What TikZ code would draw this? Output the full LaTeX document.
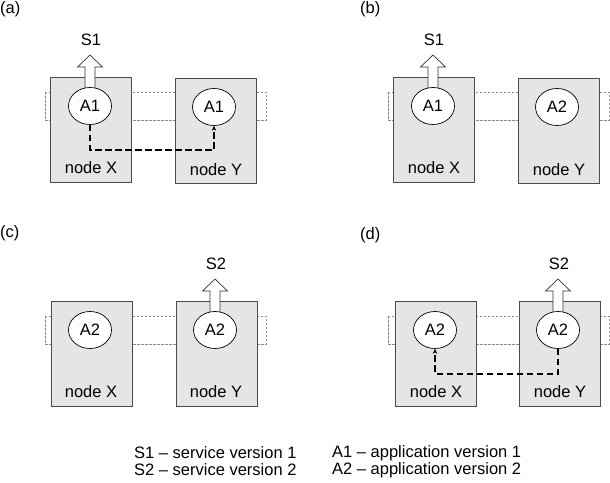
\documentclass[tikz,border=0pt]{standalone}
\usepackage{fontspec}
\setmainfont{Liberation Sans}
\usetikzlibrary{arrows.meta,calc,shapes.geometric}

\begin{document}
\begin{tikzpicture}[x=1pt,y=-1pt,>={Stealth[length=5pt,width=4.5pt]},font=\fontsize{16.5}{19}\selectfont,
  hostbox/.style={draw=black!70,fill=black!10,line width=1pt,minimum width=81pt,minimum height=105pt,inner sep=0pt},
  appell/.style={draw,fill=white,ellipse,minimum width=43pt,minimum height=37pt,inner sep=0pt,line width=0.7pt},
  linkbox/.style={draw=black!45,dash pattern=on 2.5pt off 1.5pt,line width=0.8pt},
  svcarrow/.style={draw=black!80,fill=white,line width=0.7pt},
  migr/.style={draw,dash pattern=on 6.5pt off 3.5pt,line width=1.3pt}]
\useasboundingbox (0,0) rectangle (610,482);

% (a)
\node[anchor=west,inner sep=0pt] (la) at (0,9) {(a)};
\draw[linkbox] (45,92) rectangle (266,120);
\node[hostbox] (aX) at (90.5,129.5) {};
\node[hostbox] (aY) at (216,130.5) {};
\node (aXl) at (91,168) {node X};
\node (aYl) at (216,170) {node Y};
\coordinate (aT) at (90,106);
\draw[svcarrow] ($(aT)+(-5,0)$) -- ++(0,-39) -- ++(-7.5,0) -- ++(12.5,-12) -- ++(12.5,12) -- ++(-7.5,0) -- ++(0,39);
\node (aS) at (91,40) {S1};
\node[appell] (aAx) at (aT) {A1};
\node[appell] (aAy) at (214,107) {A1};
\draw[migr,->] (aAx.south) -- ++(0,25) -| (aAy.south);

% (b)
\begin{scope}[shift={(343,0)}]
\node[anchor=west,inner sep=0pt] (lb) at (17,9) {(b)};
\draw[linkbox] (45,92) rectangle (266,120);
\node[hostbox] (bX) at (90.5,129.5) {};
\node[hostbox] (bY) at (216,130.5) {};
\node (bXl) at (91,168) {node X};
\node (bYl) at (216,170) {node Y};
\coordinate (bT) at (90,106);
\draw[svcarrow] ($(bT)+(-5,0)$) -- ++(0,-39) -- ++(-7.5,0) -- ++(12.5,-12) -- ++(12.5,12) -- ++(-7.5,0) -- ++(0,39);
\node (bS) at (91,40) {S1};
\node[appell] (bAx) at (bT) {A1};
\node[appell] (bAy) at (214,107) {A2};
\end{scope}

% (c)
\begin{scope}[shift={(0,224)}]
\node[anchor=west,inner sep=0pt] (lc) at (0,9) {(c)};
\draw[linkbox] (45,92) rectangle (266,120);
\node[hostbox] (cX) at (91.5,129.5) {};
\node[hostbox] (cY) at (216.5,129.5) {};
\node (cXl) at (91,168) {node X};
\node (cYl) at (216,168) {node Y};
\coordinate (cT) at (215,106);
\draw[svcarrow] ($(cT)+(-5,0)$) -- ++(0,-39) -- ++(-7.5,0) -- ++(12.5,-12) -- ++(12.5,12) -- ++(-7.5,0) -- ++(0,39);
\node (cS) at (216,40) {S2};
\node[appell] (cAx) at (90,106) {A2};
\node[appell] (cAy) at (cT) {A2};
\end{scope}

% (d)
\begin{scope}[shift={(343,224)}]
\node[anchor=west,inner sep=0pt] (ld) at (17,11) {(d)};
\draw[linkbox] (45,92) rectangle (266,120);
\node[hostbox] (dX) at (92.5,129.5) {};
\node[hostbox] (dY) at (216.5,129.5) {};
\node (dXl) at (93,168) {node X};
\node (dYl) at (217,168) {node Y};
\coordinate (dT) at (215,106);
\draw[svcarrow] ($(dT)+(-5,0)$) -- ++(0,-39) -- ++(-7.5,0) -- ++(12.5,-12) -- ++(12.5,12) -- ++(-7.5,0) -- ++(0,39);
\node (dS) at (216,40) {S2};
\node[appell] (dAx) at (92,106) {A2};
\node[appell] (dAy) at (dT) {A2};
\draw[migr,->] (dAy.south) -- ++(0,25) -| (dAx.south);
\end{scope}

% legend
\node[anchor=west,inner sep=0pt] (k1) at (134,453) {S1 -- service version 1};
\node[anchor=west,inner sep=0pt] (k2) at (134,470) {S2 -- service version 2};
\node[anchor=west,inner sep=0pt] (k3) at (332,453) {A1 -- application version 1};
\node[anchor=west,inner sep=0pt] (k4) at (332,470) {A2 -- application version 2};
\end{tikzpicture}
\end{document}
